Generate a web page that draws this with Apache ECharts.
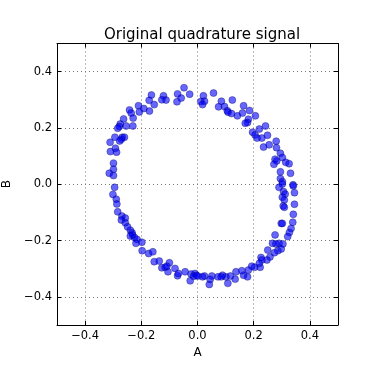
<!DOCTYPE html>
<html><head><meta charset="utf-8">
<script src="https://cdn.jsdelivr.net/npm/echarts@6/dist/echarts.min.js"></script>
<style>html,body{margin:0;padding:0;background:#fff}#c{width:375px;height:375px}</style>
</head><body><div id="c"></div>
<script>
var title = 'Original quadrature signal';
var xName = 'A';
var yName = 'B';
var A = [-0.048,-0.028,-0.071,-0.058,-0.073,-0.121,-0.127,-0.112,-0.164,-0.172,-0.154,-0.171,-0.191,-0.210,-0.207,-0.242,-0.236,-0.229,-0.263,-0.275,-0.278,-0.284,-0.254,-0.230,-0.268,-0.260,-0.271,-0.277,-0.294,-0.311,-0.292,-0.288,-0.310,-0.299,-0.299,-0.314,-0.299,
0.021,0.012,0.025,0.018,0.057,0.085,0.075,0.096,0.106,0.109,0.124,0.121,0.142,0.164,0.160,0.185,0.206,0.181,0.178,0.170,0.196,0.220,0.242,0.205,0.212,0.229,0.249,0.280,0.235,0.255,0.281,0.295,0.302,0.276,0.282,0.272,0.314,0.326,0.295,0.331,0.295,0.302,0.340,
-0.295,-0.301,-0.289,-0.287,-0.284,-0.269,-0.257,-0.271,-0.257,-0.249,-0.239,-0.233,-0.231,-0.239,-0.224,-0.215,-0.219,-0.198,-0.197,-0.174,-0.159,-0.154,-0.136,-0.127,-0.115,-0.100,-0.105,-0.109,-0.080,-0.071,-0.068,-0.044,-0.023,-0.026,-0.009,-0.004,-0.014,
0.302,0.341,0.290,0.306,0.312,0.345,0.302,0.309,0.345,0.305,0.309,0.341,0.298,0.302,0.339,0.333,0.327,0.321,0.276,0.267,0.279,0.290,0.304,0.298,0.286,0.274,0.250,0.258,0.247,0.226,0.229,0.223,0.220,0.203,0.193,0.181,0.178,0.164,0.158,0.137,0.134,0.117,0.108,0.101,0.089,0.084,0.073,0.051,0.045,0.042,0.025,0.018,0.001];
var B = [0.343,0.320,0.321,0.306,0.293,0.314,0.300,0.299,0.317,0.298,0.283,0.260,0.269,0.279,0.257,0.264,0.253,0.235,0.232,0.214,0.205,0.199,0.207,0.207,0.167,0.167,0.160,0.154,0.167,0.149,0.128,0.114,0.116,0.075,0.053,0.039,0.031,
0.314,0.294,0.295,0.283,0.324,0.295,0.275,0.276,0.261,0.256,0.299,0.251,0.243,0.279,0.253,0.262,0.243,0.231,0.219,0.217,0.185,0.196,0.207,0.175,0.164,0.164,0.174,0.153,0.132,0.140,0.130,0.110,0.095,0.089,0.083,0.071,0.078,0.073,0.044,0.039,0.020,0.009,-0.002,
-0.011,-0.036,-0.053,-0.070,-0.098,-0.113,-0.120,-0.127,-0.137,-0.151,-0.163,-0.172,-0.180,-0.184,-0.189,-0.196,-0.210,-0.206,-0.236,-0.246,-0.240,-0.275,-0.273,-0.297,-0.295,-0.279,-0.311,-0.291,-0.299,-0.325,-0.317,-0.311,-0.319,-0.343,-0.317,-0.324,-0.327,
0.001,-0.006,-0.011,-0.026,-0.035,-0.030,-0.046,-0.056,-0.071,-0.077,-0.082,-0.107,-0.139,-0.139,-0.135,-0.157,-0.171,-0.186,-0.180,-0.210,-0.212,-0.210,-0.212,-0.230,-0.236,-0.243,-0.234,-0.258,-0.269,-0.260,-0.269,-0.295,-0.281,-0.295,-0.291,-0.305,-0.329,-0.323,-0.307,-0.311,-0.337,-0.326,-0.352,-0.329,-0.323,-0.329,-0.329,-0.326,-0.338,-0.356,-0.326,-0.329,-0.326];
var axisMin = -0.5, axisMax = 0.5;

var pts = A.map(function(a, i){ return [a, B[i]]; });
var fmt = function(v){ return v < 0 ? '\u2212' + Math.abs(v).toFixed(1) : v.toFixed(1); };
var font = 'DejaVu Sans';
function mainAxis(extra){
  var o = {
    type: 'value', min: axisMin, max: axisMax, splitNumber: 5,
    axisLine: {show: true, onZero: false, lineStyle: {color: '#000', width: 1}},
    axisTick: {show: true, inside: true, length: 4, lineStyle: {color: '#000'}},
    splitLine: {show: true, lineStyle: {color: '#777', width: 1, type: [1, 3]}}
  };
  for (var k in extra) o[k] = extra[k];
  return o;
}
function sideAxis(pos){
  return {
    type: 'value', min: axisMin, max: axisMax, splitNumber: 5, position: pos,
    axisLine: {show: true, onZero: false, lineStyle: {color: '#000', width: 1}},
    axisTick: {show: true, inside: true, length: 4, lineStyle: {color: '#000'}},
    axisLabel: {show: false}, splitLine: {show: false}
  };
}
var chart = echarts.init(document.getElementById('c'), null, {renderer: 'canvas'});
chart.setOption({
  animation: false,
  backgroundColor: '#fff',
  title: {text: title, left: 197, top: 23, textAlign: 'center',
    textStyle: {fontFamily: font, fontSize: 15, fontWeight: 'normal', color: '#000'}},
  grid: {left: 57, right: 37, top: 43.5, bottom: 50, containLabel: false, outerBoundsMode: 'none'},
  xAxis: [
    mainAxis({position: 'bottom', name: xName, nameLocation: 'middle', nameGap: 22,
      nameTextStyle: {fontFamily: font, fontSize: 12, color: '#000'},
      axisLabel: {show: true, formatter: fmt, color: '#000', fontFamily: font, fontSize: 11.5, margin: 5, showMinLabel: false, showMaxLabel: false}}),
    sideAxis('top')
  ],
  yAxis: [
    mainAxis({position: 'left', name: yName, nameLocation: 'middle', nameGap: 34, nameRotate: 90,
      nameTextStyle: {fontFamily: font, fontSize: 12, color: '#000'},
      axisLabel: {show: true, formatter: fmt, color: '#000', fontFamily: font, fontSize: 11.5, margin: 5, showMinLabel: false, showMaxLabel: false}}),
    sideAxis('right')
  ],
  series: [{
    type: 'scatter', xAxisIndex: 0, yAxisIndex: 0, data: pts,
    symbol: 'circle', symbolSize: 7,
    itemStyle: {color: 'rgba(0,0,255,0.75)', borderColor: 'rgba(0,0,90,0.75)', borderWidth: 0.6}
  }]
});
</script></body></html>
